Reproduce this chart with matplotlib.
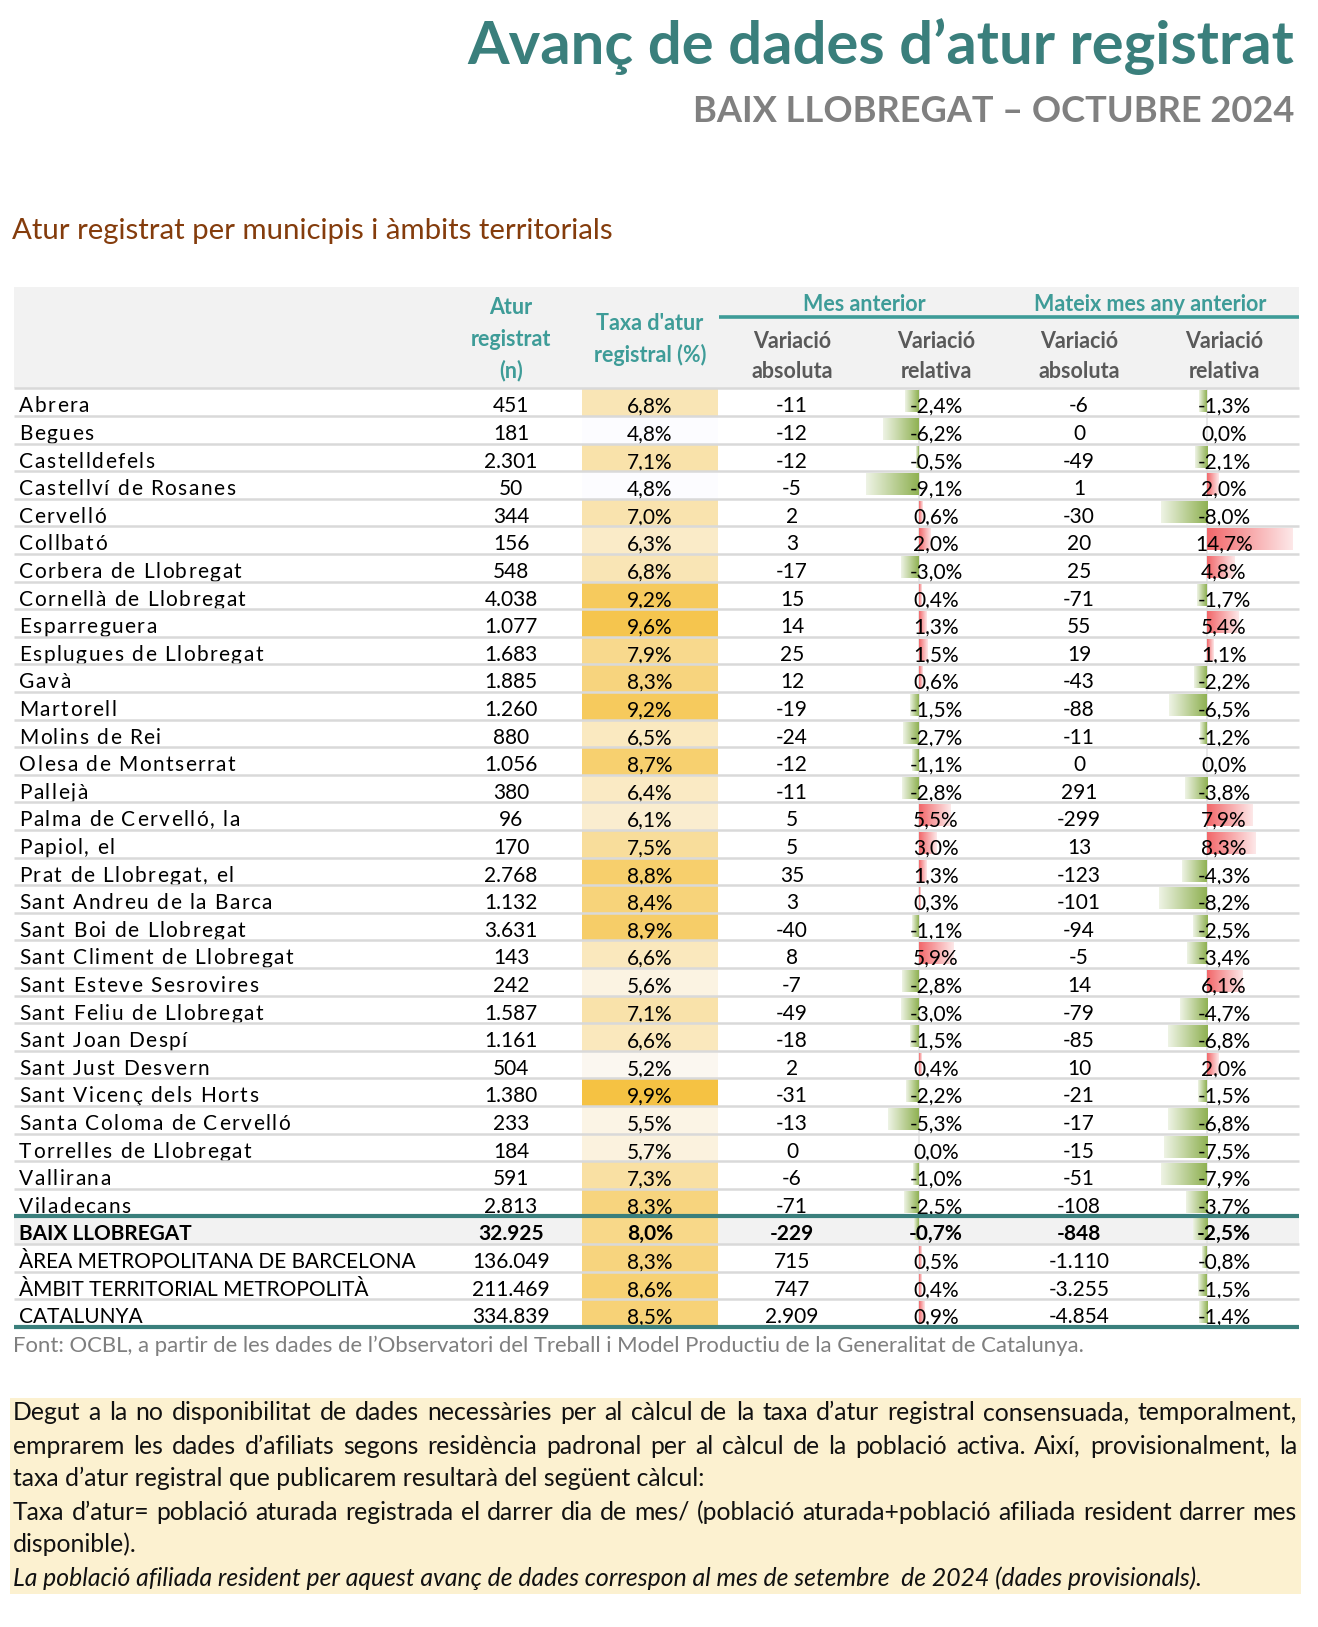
import matplotlib
matplotlib.use("Agg")
import matplotlib.pyplot as plt
import numpy as np
from matplotlib.colors import LinearSegmentedColormap, Normalize, to_rgb
from matplotlib.patches import Rectangle

W, H = 1318, 1627

# ---------------------------------------------------------------- data
municipis = ["Abrera", "Begues", "Castelldefels", "Castellví de Rosanes", "Cervelló",
             "Collbató", "Corbera de Llobregat", "Cornellà de Llobregat", "Esparreguera",
             "Esplugues de Llobregat", "Gavà", "Martorell", "Molins de Rei",
             "Olesa de Montserrat", "Pallejà", "Palma de Cervelló, la", "Papiol, el",
             "Prat de Llobregat, el", "Sant Andreu de la Barca", "Sant Boi de Llobregat",
             "Sant Climent de Llobregat", "Sant Esteve Sesrovires", "Sant Feliu de Llobregat",
             "Sant Joan Despí", "Sant Just Desvern", "Sant Vicenç dels Horts",
             "Santa Coloma de Cervelló", "Torrelles de Llobregat", "Vallirana", "Viladecans"]
ambits = ["BAIX LLOBREGAT", "ÀREA METROPOLITANA DE BARCELONA",
          "ÀMBIT TERRITORIAL METROPOLITÀ", "CATALUNYA"]

atur = [451, 181, 2301, 50, 344, 156, 548, 4038, 1077, 1683, 1885, 1260, 880, 1056, 380,
        96, 170, 2768, 1132, 3631, 143, 242, 1587, 1161, 504, 1380, 233, 184, 591, 2813,
        32925, 136049, 211469, 334839]
taxa = [6.8, 4.8, 7.1, 4.8, 7.0, 6.3, 6.8, 9.2, 9.6, 7.9, 8.3, 9.2, 6.5, 8.7, 6.4,
        6.1, 7.5, 8.8, 8.4, 8.9, 6.6, 5.6, 7.1, 6.6, 5.2, 9.9, 5.5, 5.7, 7.3, 8.3,
        8.0, 8.3, 8.6, 8.5]
mes_abs = [-11, -12, -12, -5, 2, 3, -17, 15, 14, 25, 12, -19, -24, -12, -11,
           5, 5, 35, 3, -40, 8, -7, -49, -18, 2, -31, -13, 0, -6, -71,
           -229, 715, 747, 2909]
mes_rel = [-2.4, -6.2, -0.5, -9.1, 0.6, 2.0, -3.0, 0.4, 1.3, 1.5, 0.6, -1.5, -2.7, -1.1, -2.8,
           5.5, 3.0, 1.3, 0.3, -1.1, 5.9, -2.8, -3.0, -1.5, 0.4, -2.2, -5.3, 0.0, -1.0, -2.5,
           -0.7, 0.5, 0.4, 0.9]
any_abs = [-6, 0, -49, 1, -30, 20, 25, -71, 55, 19, -43, -88, -11, 0, 291,
           -299, 13, -123, -101, -94, -5, 14, -79, -85, 10, -21, -17, -15, -51, -108,
           -848, -1110, -3255, -4854]
any_rel = [-1.3, 0.0, -2.1, 2.0, -8.0, 14.7, 4.8, -1.7, 5.4, 1.1, -2.2, -6.5, -1.2, 0.0, -3.8,
           7.9, 8.3, -4.3, -8.2, -2.5, -3.4, 6.1, -4.7, -6.8, 2.0, -1.5, -6.8, -7.5, -7.9, -3.7,
           -2.5, -0.8, -1.5, -1.4]

noms = municipis + ambits

nota = [
    "Degut a la no disponibilitat de dades necessàries per al càlcul de la taxa d’atur registral consensuada, temporalment,",
    "emprarem les dades d’afiliats segons residència padronal per al càlcul de la població activa. Així, provisionalment, la",
    "taxa d’atur registral que publicarem resultarà del següent càlcul:",
    "Taxa d’atur= població aturada registrada el darrer dia de mes/ (població aturada+població afiliada resident darrer mes",
    "disponible).",
    "La població afiliada resident per aquest avanç de dades correspon al mes de setembre  de 2024 (dades provisionals).",
]
nota_justif = [True, True, False, True, False, False]

# ---------------------------------------------------------------- style
TEAL = "#3A7F7C"
TEAL_HDR = "#3E9C98"
GREY_HDR = "#595959"
GREEN = "#8FB152"
RED = "#F2676A"

plt.rcParams["font.family"] = ["Lato", "DejaVu Sans"]

fig = plt.figure(figsize=(W / 100, H / 100), dpi=100)
ax = fig.add_axes([0, 0, 1, 1])
ax.axis("off")
renderer = fig.canvas.get_renderer()


def width_of(t):
    return t.get_window_extent(renderer).width


def fit_text(x, y, s, target, size, **kw):
    t = ax.text(x, y, s, fontsize=size, **kw)
    t.set_fontsize(size * target / width_of(t))
    return t


def spaced_text(x, y, s, spacing, **kw):
    # the pdf export spreads the municipality names a little
    probe = ax.text(0, y, "", **kw)
    for k, ch in enumerate(s):
        probe.set_text(s[:k])
        off = width_of(probe) if k else 0
        ax.text(x + off + k * spacing, y, ch, **kw)
    probe.remove()


def justified(x0, x1, y, line, **kw):
    words = line.split()
    probe = ax.text(0, y, "", **kw)
    starts = []
    for k, w in enumerate(words):
        probe.set_text(" ".join(words[:k + 1]))
        full = width_of(probe)
        probe.set_text(w)
        starts.append(full - width_of(probe))
    probe.set_text(line)
    extra = (x1 - x0 - width_of(probe)) / (len(words) - 1)
    probe.remove()
    for k, w in enumerate(words):
        ax.text(x0 + starts[k] + k * extra, y, w, **kw)


def fmt_int(v):
    return ("-" if v < 0 else "") + f"{abs(v):,}".replace(",", ".")


def fmt_pct(v):
    return ("-" if v < 0 else "") + f"{abs(v):.1f}".replace(".", ",") + "%"


# ---------------------------------------------------------------- titles
fit_text(1294, 64, "Avanç de dades d’atur registrat", 828, 40, ha="right", va="baseline",
         color=TEAL, fontweight="bold")
fit_text(1294, 121.5, "BAIX LLOBREGAT – OCTUBRE 2024", 603, 22, ha="right", va="baseline",
         color="#808080", fontweight="bold")
fit_text(12.5, 239, "Atur registrat per municipis i àmbits territorials", 600, 17,
         ha="left", va="baseline", color="#843C0C")

# ---------------------------------------------------------------- table geometry
X_L, X_R = 14, 1299
ROW0, ROW_H = 388.3, 27.6
X_NAME = 19
X_ATUR = 511
TAXA_X0, TAXA_X1 = 582, 718
X_TAXA = (TAXA_X0 + TAXA_X1) / 2
X_MES_ABS, X_MES_REL, AXIS_MES = 792, 936, 918.5
X_ANY_ABS, X_ANY_REL, AXIS_ANY = 1079, 1224, 1207
PX_PER_PCT = 5.8
n = len(noms)

# header
ax.add_patch(Rectangle((X_L, 286.7), X_R - X_L, ROW0 - 286.7, color="#F2F2F2", lw=0, zorder=0))
hdr = dict(ha="center", va="baseline", fontsize=15.5, fontweight="bold")
for s, yb in zip(["Atur", "registrat", "(n)"], [314, 346, 377]):
    ax.text(X_ATUR, yb, s, color=TEAL_HDR, **hdr)
for s, yb in zip(["Taxa d'atur", "registral (%)"], [330, 361.5]):
    ax.text(X_TAXA, yb, s, color=TEAL_HDR, **hdr)
ax.text(864.5, 311, "Mes anterior", color=TEAL_HDR, **hdr)
ax.text(1150, 311, "Mateix mes any anterior", color=TEAL_HDR, **hdr)
ax.hlines(316.5, 719, X_R, color=TEAL_HDR, lw=2.6)
for xc, second in zip([X_MES_ABS, X_MES_REL, X_ANY_ABS, X_ANY_REL],
                      ["absoluta", "relativa", "absoluta", "relativa"]):
    ax.text(xc, 347.5, "Variació", color=GREY_HDR, **hdr)
    ax.text(xc, 377.5, second, color=GREY_HDR, **hdr)

# colour scale for the rate column
taxa_cmap = LinearSegmentedColormap.from_list("taxa", ["#FCFCFF", "#F5C243"])
taxa_norm = Normalize(min(taxa), max(taxa))


def data_bar(y0, y1, v, axis_x, color):
    if v == 0:
        return
    x_end = axis_x + v * PX_PER_PCT
    c = np.array(to_rgb(color))
    pale = c + (1 - c) * 0.85
    cmap = LinearSegmentedColormap.from_list("bar", [c, pale])
    grad = np.linspace(0, 1, 128)[None, :]
    if v < 0:
        grad = grad[:, ::-1]
    ax.imshow(grad, cmap=cmap, vmin=0, vmax=1, aspect="auto", interpolation="bilinear",
              extent=(min(axis_x, x_end), max(axis_x, x_end), y1, y0), zorder=2)


# faint zero axes of the data bars
for axis_x in (AXIS_MES, AXIS_ANY):
    ax.vlines(axis_x, ROW0, ROW0 + n * ROW_H, color="#E4E4E4", lw=1.2, zorder=1)

for i in range(n):
    top = ROW0 + i * ROW_H
    bot = top + ROW_H
    base = bot - 3.5
    total = i >= len(municipis)
    if i == len(municipis):
        ax.add_patch(Rectangle((X_L, top), X_R - X_L, ROW_H, color="#F2F2F2", lw=0, zorder=0))
    ax.add_patch(Rectangle((TAXA_X0, top), TAXA_X1 - TAXA_X0, ROW_H,
                           color=taxa_cmap(taxa_norm(taxa[i])), lw=0, zorder=0.5))
    data_bar(top + 2.5, bot - 3.5, mes_rel[i], AXIS_MES, GREEN if mes_rel[i] < 0 else RED)
    data_bar(top + 2.5, bot - 3.5, any_rel[i], AXIS_ANY, GREEN if any_rel[i] < 0 else RED)

    cell = dict(va="baseline", fontsize=15, color="black", zorder=3,
                fontweight="bold" if i == len(municipis) else "normal")
    if total:
        ax.text(X_NAME, base, noms[i], ha="left", **cell)
    else:
        spaced_text(X_NAME, base, noms[i], 1.5, ha="left", **cell)
    ax.text(X_ATUR, base, fmt_int(atur[i]), ha="center", **cell)
    ax.text(X_TAXA, base, fmt_pct(taxa[i]), ha="center", **cell)
    ax.text(X_MES_ABS, base, fmt_int(mes_abs[i]), ha="center", **cell)
    ax.text(X_MES_REL, base, fmt_pct(mes_rel[i]), ha="center", **cell)
    ax.text(X_ANY_ABS, base, fmt_int(any_abs[i]), ha="center", **cell)
    ax.text(X_ANY_REL, base, fmt_pct(any_rel[i]), ha="center", **cell)

# row rules
for k in range(n + 1):
    y = ROW0 + k * ROW_H
    if k in (len(municipis), n):
        ax.hlines(y, X_L, X_R, color=TEAL, lw=3.0, zorder=4)
    else:
        ax.hlines(y, X_L, X_R, color="#D9D9D9", lw=1.8, zorder=4)

# source
fit_text(13, 1352, "Font: OCBL, a partir de les dades de l’Observatori del Treball i Model "
         "Productiu de la Generalitat de Catalunya.", 1072, 14, ha="left", va="baseline",
         color="#7F7F7F")

# ---------------------------------------------------------------- note box
BOX_X0, BOX_X1 = 10, 1301
ax.add_patch(Rectangle((BOX_X0, 1398), BOX_X1 - BOX_X0, 1594 - 1398, color="#FCF1D0", lw=0,
                       zorder=0))
TX0, TX1 = 13, 1297
note_size = 20.0
probe = [ax.text(0, 0, l, fontsize=note_size) for l, j in zip(nota, nota_justif) if j]
widest = max(width_of(p) for p in probe)
for p in probe:
    p.remove()
if widest > (TX1 - TX0) * 0.99:
    note_size *= (TX1 - TX0) * 0.99 / widest

for li, (line, just) in enumerate(zip(nota, nota_justif)):
    yb = 1420.5 + li * 33
    style = "italic" if li == len(nota) - 1 else "normal"
    kw = dict(fontsize=note_size, va="baseline", style=style, color="#111111")
    if just:
        justified(TX0, TX1, yb, line, **kw)
    else:
        ax.text(TX0, yb, line, **kw)

ax.set_xlim(0, W)
ax.set_ylim(H, 0)
fig.savefig("out.png", dpi=100, facecolor="white")
